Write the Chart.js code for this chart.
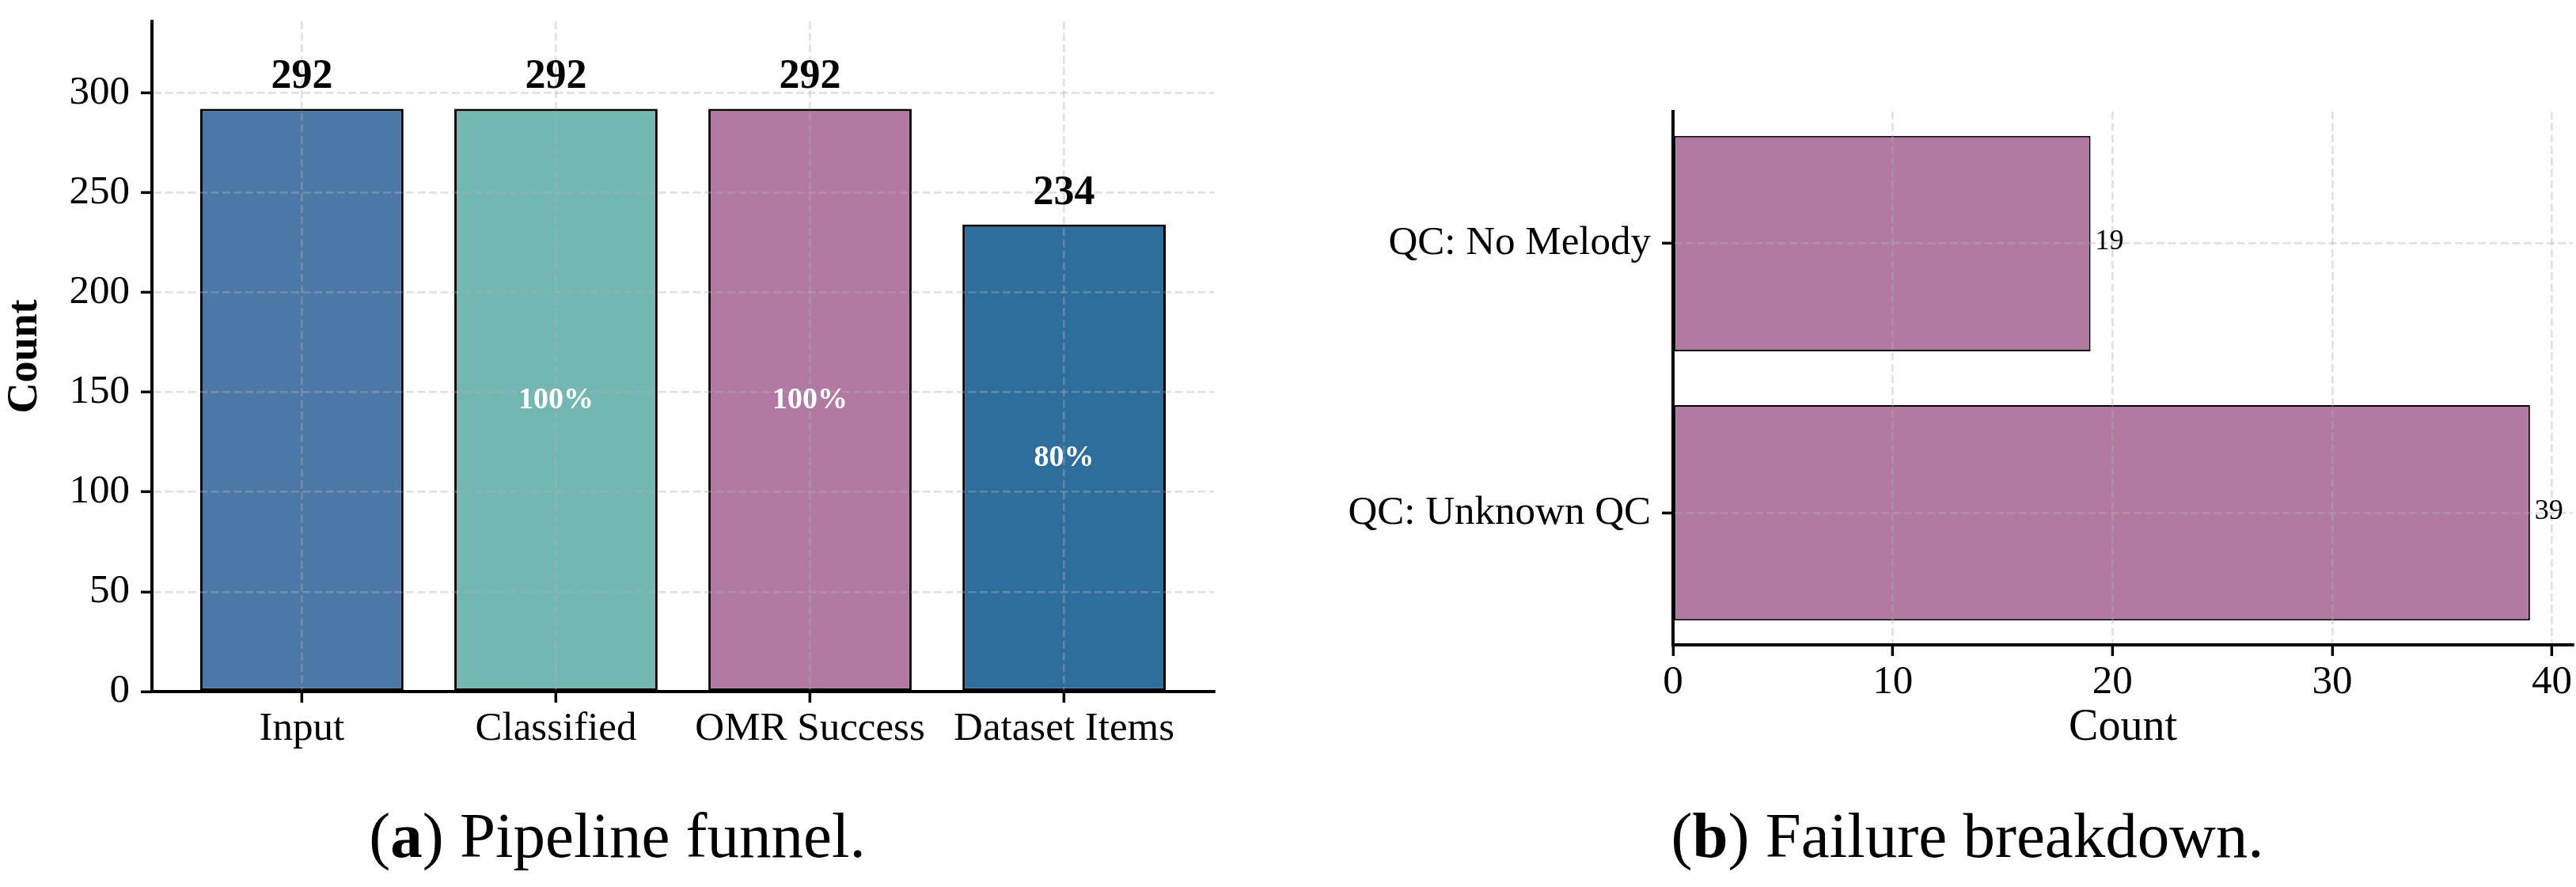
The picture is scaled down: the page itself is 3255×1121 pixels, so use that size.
<!DOCTYPE html>
<html><head><meta charset="utf-8">
<script src="https://cdn.jsdelivr.net/npm/chart.js@4.4.1/dist/chart.umd.min.js"></script>
<style>
html,body{margin:0;padding:0;background:#fff;width:3255px;height:1121px;overflow:hidden;}
canvas{position:absolute;}
#c1{left:0;top:0;}
#c2{left:1620px;top:0;}
.cap{position:absolute;top:1016px;width:1200px;text-align:center;font-family:"Liberation Serif",serif;font-size:81px;line-height:80px;color:#000;white-space:nowrap;}
</style></head><body>
<canvas id="c1" width="1600" height="980"></canvas>
<canvas id="c2" width="1635" height="980"></canvas>
<div class="cap" style="left:180px">(<b>a</b>) Pipeline funnel.</div>
<div class="cap" style="left:1886px">(<b>b</b>) Failure breakdown.</div>
<script>
// ---- data ----
const stages = ['Input', 'Classified', 'OMR Success', 'Dataset Items'];
const stageCounts = [292, 292, 292, 234];
const funnelTicks = [0, 50, 100, 150, 200, 250, 300];

const failureReasons = ['QC: No Melody', 'QC: Unknown QC'];
const failureCounts = [19, 39];
const failureTicks = [0, 10, 20, 30, 40];

// ---- styles ----
const stageColors = ['#4C78A8', '#72B7B2', '#B279A2', '#2E6E9D'];
const failureColor = '#B279A2';
const FONT = '"Liberation Serif", "Times New Roman", serif';
Chart.defaults.font.family = FONT;
Chart.defaults.color = '#000';

const grid = {color: 'rgba(176,176,176,0.37)', lineWidth: 2.7, z: 1, offset: false, tickColor: '#000', tickWidth: 3.5, tickLength: 14, tickBorderDash: []};
const border = {color: '#000', width: 4, dash: [10, 4.5], z: 2};

// ---- chart (a) ----
const funnelLabels = {
  id: 'funnelLabels',
  afterDraw(chart) {
    const {ctx, scales: {x, y}} = chart;
    ctx.save();
    ctx.textAlign = 'center';
    stageCounts.forEach((v, i) => {
      const px = x.getPixelForValue(i);
      ctx.fillStyle = '#000';
      ctx.font = 'bold 52px ' + FONT;
      ctx.textBaseline = 'alphabetic';
      ctx.fillText(String(v), px, y.getPixelForValue(v) - 26);
      if (i > 0) {
        ctx.fillStyle = '#fff';
        ctx.font = 'bold 38px ' + FONT;
        ctx.textBaseline = 'middle';
        ctx.fillText(Math.round(v / stageCounts[0] * 100) + '%', px, y.getPixelForValue(v / 2));
      }
    });
    ctx.restore();
  }
};

new Chart(document.getElementById('c1'), {
  type: 'bar',
  data: {
    datasets: [{
      data: stageCounts.map((v, i) => ({x: i, y: v})),
      backgroundColor: stageColors,
      borderColor: '#000',
      borderWidth: 3,
      borderSkipped: false,
      barPercentage: 0.8,
      categoryPercentage: 1.0
    }]
  },
  options: {
    responsive: false, animation: false, devicePixelRatio: 1,
    layout: {padding: {top: 27, right: 66, bottom: 0, left: 0}},
    plugins: {legend: {display: false}, tooltip: {enabled: false}},
    scales: {
      x: {
        type: 'linear', min: -0.59, max: 3.59, offset: false,
        afterBuildTicks: s => { s.ticks = stages.map((_, i) => ({value: i})); },
        afterFit: s => { s.height = 106; s.paddingLeft = 0; s.paddingRight = 0; },
        ticks: {font: {size: 51}, padding: 3, maxRotation: 0, autoSkip: false,
                callback: (v, i) => stages[i]},
        grid: grid, border: border
      },
      y: {
        type: 'linear', min: 0, max: 335.8,
        afterBuildTicks: s => { s.ticks = funnelTicks.map(v => ({value: v})); },
        afterFit: s => { s.width = 192; s.paddingTop = 0; s.paddingBottom = 0; },
        ticks: {font: {size: 51}, padding: 14, callback: v => String(v)},
        title: {display: true, text: 'Count', font: {size: 54, weight: 'bold'}, padding: 0},
        grid: grid, border: border
      }
    }
  },
  plugins: [funnelLabels]
});

// ---- chart (b) ----
const failureLabels = {
  id: 'failureLabels',
  afterDraw(chart) {
    const {ctx, scales: {x, y}} = chart;
    ctx.save();
    ctx.fillStyle = '#000';
    ctx.font = '36px ' + FONT;
    ctx.textAlign = 'left';
    ctx.textBaseline = 'middle';
    failureCounts.forEach((v, i) => {
      ctx.fillText(String(v), x.getPixelForValue(v) + 6, y.getPixelForValue(i) - 2);
    });
    ctx.restore();
  }
};

new Chart(document.getElementById('c2'), {
  type: 'bar',
  data: {
    datasets: [{
      data: failureCounts.map((v, i) => ({x: v, y: i})),
      backgroundColor: failureColor,
      borderColor: '#000',
      borderWidth: 2,
      borderSkipped: false,
      barPercentage: 0.8,
      categoryPercentage: 1.0
    }]
  },
  options: {
    indexAxis: 'y',
    responsive: false, animation: false, devicePixelRatio: 1,
    layout: {padding: {top: 141, right: 4, bottom: 26, left: 0}},
    plugins: {legend: {display: false}, tooltip: {enabled: false}},
    scales: {
      x: {
        type: 'linear', min: 0, max: 40.95, offset: false,
        afterBuildTicks: s => { s.ticks = failureTicks.map(v => ({value: v})); },
        afterFit: s => { s.height = 139; s.paddingLeft = 0; s.paddingRight = 0; },
        ticks: {font: {size: 51}, padding: 3, maxRotation: 0, callback: v => String(v)},
        title: {display: true, text: 'Count', font: {size: 56}, padding: 0},
        grid: grid, border: border
      },
      y: {
        type: 'linear', min: -0.49, max: 1.49, reverse: true, offset: false,
        afterBuildTicks: s => { s.ticks = failureReasons.map((_, i) => ({value: i})); },
        afterFit: s => { s.width = 494; s.paddingTop = 0; s.paddingBottom = 0; },
        ticks: {font: {size: 51}, padding: 14, autoSkip: false, callback: (v, i) => failureReasons[i]},
        grid: grid, border: border
      }
    }
  },
  plugins: [failureLabels]
});
</script>
</body></html>
